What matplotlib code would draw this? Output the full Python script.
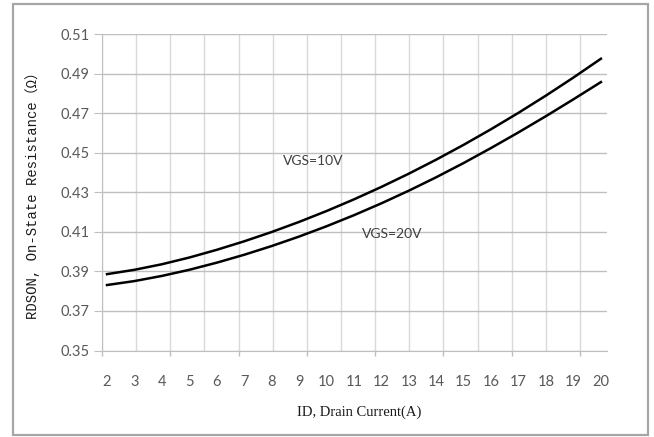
import numpy as np
import matplotlib
matplotlib.use("Agg")
import matplotlib.pyplot as plt
from matplotlib.patches import Rectangle
import matplotlib.transforms as mtransforms

# ---- data ----
drain_current = [2, 3, 4, 5, 6, 7, 8, 9, 10, 11, 12, 13, 14, 15, 16, 17, 18, 19, 20]
rdson_vgs10 = [0.3886, 0.3908, 0.3936, 0.3970, 0.4009, 0.4052, 0.4099, 0.4150, 0.4205,
               0.4264, 0.4327, 0.4394, 0.4465, 0.4540, 0.4619, 0.4702, 0.4789, 0.4880, 0.4975]
rdson_vgs20 = [0.3831, 0.3851, 0.3877, 0.3908, 0.3944, 0.3984, 0.4028, 0.4076, 0.4128,
               0.4184, 0.4244, 0.4308, 0.4376, 0.4448, 0.4524, 0.4603, 0.4685, 0.4770, 0.4857]
y_ticks = [0.35, 0.37, 0.39, 0.41, 0.43, 0.45, 0.47, 0.49, 0.51]
y_tick_labels = ["0.35", "0.37", "0.39", "0.41", "0.43", "0.45", "0.47", "0.49", "0.51"]
label_10 = "VGS=10V"
label_20 = "VGS=20V"

fig = plt.figure(figsize=(6.54, 4.37), dpi=100)
fig.patch.set_facecolor("white")
ax = fig.add_axes([102/654, 1-350.5/437, 505/654, 316.5/437])

xmin, xmax = 2 - 5/27.44, 2 + 500/27.44
ax.set_xlim(xmin, xmax)
ax.set_ylim(0.35, 0.51)

grid_step = 34.14/27.44
grid_x = xmin + np.arange(15)*grid_step
for gx in grid_x:
    ax.axvline(gx, color="#d9d9d9", lw=1.0, zorder=1)
for yv in y_ticks:
    ax.axhline(yv, color="#bfbfbf", lw=1.0, zorder=1)

trans = mtransforms.blended_transform_factory(ax.transData, ax.transAxes)
ax.vlines(grid_x[::2], -0.016, 0, transform=trans, color="#bfbfbf", lw=1.0, clip_on=False)

ax.plot(drain_current, rdson_vgs10, color="black", lw=1.8, zorder=3, solid_joinstyle="round")
ax.plot(drain_current, rdson_vgs20, color="black", lw=1.8, zorder=3, solid_joinstyle="round")

ax.text(9.51, 0.4456, label_10, fontsize=10, family="Lato", color="#404040", ha="center", va="center")
ax.text(12.39, 0.4090, label_20, fontsize=10, family="Lato", color="#404040", ha="center", va="center")

for s in ["top", "right"]:
    ax.spines[s].set_visible(False)
ax.spines["left"].set_color("#bfbfbf")
ax.spines["bottom"].set_color("#bfbfbf")

ax.set_yticks(y_ticks)
ax.set_yticklabels(y_tick_labels, family="Lato", fontsize=10.5, color="#595959")
ax.tick_params(axis="y", length=6, color="#bfbfbf", pad=3)
ax.set_xticks(drain_current)
ax.set_xticklabels([str(v) for v in drain_current], family="Lato", fontsize=10.5, color="#595959")
ax.tick_params(axis="x", length=0, pad=18)

fig.text(359/654, 1-412/437, "ID, Drain Current(A)", family="Liberation Serif", fontsize=10.5,
         color="#1a1a1a", ha="center", va="center")
fig.text(33/654, 1-192/437, "RDSON, On-State Resistance（Ω）", family=["Liberation Mono", "Noto Sans CJK SC"],
         fontsize=10, color="#1a1a1a", ha="center", va="center", rotation=90)

fig.patches.append(Rectangle((13/654, 1-435/437), 635/654, 431/437, transform=fig.transFigure,
                             fill=False, edgecolor="#a6a6a6", lw=1.6))

fig.savefig("out.png", dpi=100)
